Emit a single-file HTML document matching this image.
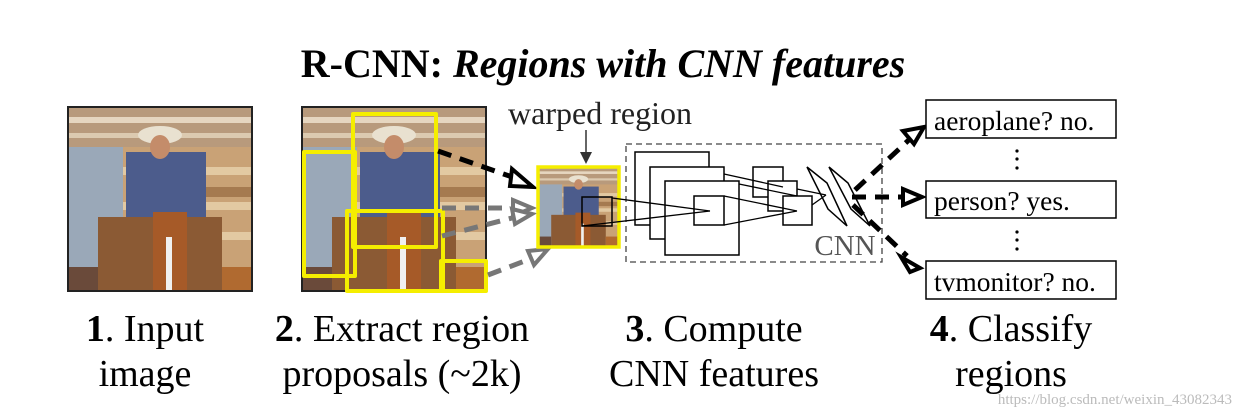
<!DOCTYPE html>
<html><head><meta charset="utf-8"><style>
html,body{margin:0;padding:0;background:#fff;}
svg{display:block;}
text{font-family:"Liberation Serif",serif;}
</style></head><body>
<svg width="1244" height="418" viewBox="0 0 1244 418" xmlns="http://www.w3.org/2000/svg">
<defs>
<g id="photo">
<rect x="0" y="0" width="184" height="184" fill="#c9a276"/>
<rect x="0" y="0" width="184" height="40" fill="#b89a7c"/>
<rect x="0" y="10" width="184" height="6" fill="#e6d6c0"/>
<rect x="0" y="26" width="184" height="5" fill="#dccab0"/>
<rect x="0" y="40" width="55" height="140" fill="#9aa8b8"/>
<rect x="55" y="60" width="129" height="8" fill="#e2c9a2"/>
<rect x="55" y="95" width="129" height="8" fill="#e2c9a2"/>
<rect x="55" y="125" width="129" height="8" fill="#e2c9a2"/>
<rect x="125" y="80" width="59" height="10" fill="#a57a50"/>
<rect x="58" y="45" width="80" height="70" fill="#4c5c8c"/>
<ellipse cx="92" cy="28" rx="22" ry="9" fill="#e9e1d0"/>
<ellipse cx="92" cy="40" rx="10" ry="12" fill="#c48c6a"/>
<rect x="30" y="110" width="124" height="74" fill="#8b5a34"/>
<rect x="85" y="105" width="34" height="79" fill="#a65a28"/>
<rect x="98" y="130" width="6" height="54" fill="#f0f0f0"/>
<rect x="0" y="160" width="30" height="24" fill="#6a4a3a"/>
<rect x="154" y="160" width="30" height="24" fill="#b06a30"/>
</g>
</defs>

<text x="603" y="77" font-size="40" font-weight="bold" text-anchor="middle">R-CNN: <tspan font-style="italic">Regions with CNN features</tspan></text>

<use href="#photo" x="68" y="107"/>
<rect x="68" y="107" width="184" height="184" fill="none" stroke="#222" stroke-width="2"/>

<use href="#photo" x="302" y="107"/>
<rect x="302" y="107" width="184" height="184" fill="none" stroke="#222" stroke-width="2"/>
<g fill="none" stroke="#f5ee00" stroke-width="4" stroke-linejoin="round">
<rect x="304" y="152" width="51" height="124"/>
<rect x="353" y="114" width="83" height="133"/>
<rect x="347" y="211" width="96" height="80"/>
<rect x="441" y="261" width="45" height="30"/>
</g>

<g fill="none" stroke-width="5" stroke-dasharray="14,9">
<line x1="438" y1="151" x2="515" y2="178" stroke="#000"/>
<line x1="442" y1="208" x2="512" y2="208" stroke="#777"/>
<line x1="442" y1="236" x2="512" y2="218" stroke="#777"/>
<line x1="488" y1="275" x2="530" y2="259" stroke="#777"/>
</g>
<g fill="#fff" stroke-width="4" stroke-linejoin="miter">
<polygon points="533,187 512,169 510,186" stroke="#000"/>
<polygon points="532,208 513,200 513,216" stroke="#777"/>
<polygon points="532,214 512,209 515,224" stroke="#777"/>
<polygon points="548,249 528,251 534,265" stroke="#777"/>
</g>

<text x="600" y="124" font-size="32" text-anchor="middle" fill="#222">warped region</text>
<line x1="586" y1="130" x2="586" y2="158" stroke="#333" stroke-width="1.5"/>
<polygon points="580,152 592,152 586,164" fill="#333"/>
<svg x="538" y="167" width="81" height="80" viewBox="0 0 184 184" preserveAspectRatio="none"><use href="#photo"/></svg>
<rect x="538" y="167" width="81" height="80" fill="none" stroke="#f5ee00" stroke-width="3.5"/>
<rect x="582" y="197" width="30" height="29" fill="none" stroke="#000" stroke-width="1.5"/>

<rect x="626" y="144" width="256" height="118" fill="none" stroke="#444" stroke-width="1.3" stroke-dasharray="6,4"/>
<g fill="#fff" stroke="#000" stroke-width="1.5">
<rect x="635" y="152" width="74" height="73"/>
<rect x="650" y="167" width="74" height="72"/>
<rect x="665" y="181" width="74" height="74"/>
<rect x="694" y="196" width="30" height="29"/>
<rect x="753" y="167" width="30" height="30"/>
<rect x="768" y="181" width="29" height="30"/>
<rect x="783" y="196" width="29" height="29"/>
<polygon points="807,167 827,183 847,226 828,209"/>
<polygon points="829,167 848,183 870,226 851,209"/>
</g>
<g stroke="#000" stroke-width="1.3" fill="none">
<line x1="612" y1="198" x2="710" y2="211"/>
<line x1="582" y1="226" x2="710" y2="211"/>
<line x1="724" y1="196" x2="797" y2="211"/>
<line x1="724" y1="225" x2="797" y2="211"/>
<line x1="724" y1="174" x2="783" y2="187"/>
<line x1="739" y1="184" x2="797" y2="196"/>
<line x1="812" y1="205" x2="826" y2="195"/>
<line x1="797" y1="189" x2="826" y2="195"/>
</g>
<text x="845" y="255" font-size="29" text-anchor="middle" fill="#555">CNN</text>

<g fill="none" stroke="#000" stroke-width="5" stroke-dasharray="14,9">
<line x1="855" y1="190" x2="912" y2="137"/>
<line x1="852" y1="197" x2="905" y2="197"/>
<line x1="853" y1="205" x2="907" y2="256"/>
</g>
<g fill="#fff" stroke="#000" stroke-width="4">
<polygon points="924,127 903,131 914,144"/>
<polygon points="922,197 903,189 903,205"/>
<polygon points="920,268 901,257 910,272"/>
</g>

<g fill="#fff" stroke="#000" stroke-width="1.5">
<rect x="926" y="100" width="190" height="38"/>
<rect x="926" y="181" width="190" height="37"/>
<rect x="926" y="261" width="190" height="38"/>
</g>
<g font-size="27.5" fill="#000">
<text x="934" y="130">aeroplane? no.</text>
<text x="934" y="210">person? yes.</text>
<text x="934" y="291">tvmonitor? no.</text>
</g>
<g fill="#000">
<circle cx="1017" cy="151" r="1.6"/><circle cx="1017" cy="159" r="1.6"/><circle cx="1017" cy="168" r="1.6"/>
<circle cx="1017" cy="232" r="1.6"/><circle cx="1017" cy="240" r="1.6"/><circle cx="1017" cy="249" r="1.6"/>
</g>

<g font-size="38" text-anchor="middle" fill="#000">
<text x="145" y="341"><tspan font-weight="bold">1</tspan>. Input</text>
<text x="145" y="386">image</text>
<text x="402" y="341"><tspan font-weight="bold">2</tspan>. Extract region</text>
<text x="402" y="386">proposals (~2k)</text>
<text x="714" y="341"><tspan font-weight="bold">3</tspan>. Compute</text>
<text x="714" y="386">CNN features</text>
<text x="1011" y="341"><tspan font-weight="bold">4</tspan>. Classify</text>
<text x="1011" y="386">regions</text>
</g>
<text x="1232" y="404" font-size="15" text-anchor="end" fill="#bbb" font-family="Liberation Sans, sans-serif">https://blog.csdn.net/weixin_43082343</text>
</svg>
</body></html>
